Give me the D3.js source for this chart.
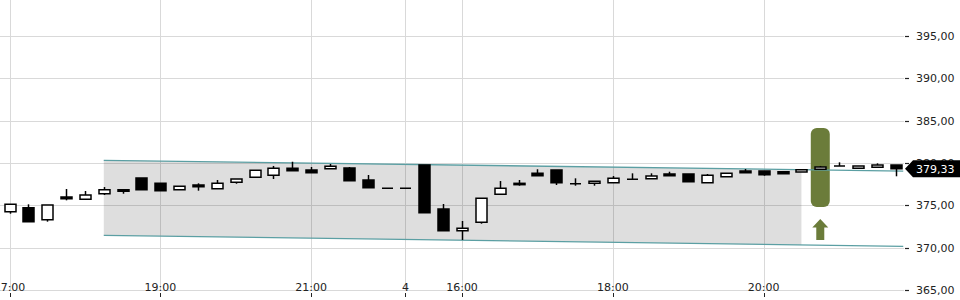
<!DOCTYPE html>
<html>
<head>
<meta charset="utf-8">
<script src="https://cdn.jsdelivr.net/npm/d3@7"></script>
<style>
  body { margin: 0; background: #fff; }
  svg { display: block; font-family: "DejaVu Sans", sans-serif; }
</style>
</head>
<body>
<svg width="960" height="300"></svg>
<script>
// 15 minute candles, index 0..47
var openV  = [374.25,374.72,373.30,375.98,375.71,376.37,376.85,378.23,377.60,376.85,377.40,376.96,377.72,378.31,378.55,379.37,
              379.17,379.33,379.41,377.99,377.01,377.01,379.76,374.57,372.00,373.00,376.30,377.60,378.78,379.17,377.55,377.60,
              377.67,378.07,378.15,378.70,378.70,377.67,378.38,379.05,379.05,378.97,378.94,379.26,379.65,379.37,379.49,379.76];
var closeV = [375.12,373.07,375.04,375.78,376.22,376.85,376.66,376.85,376.73,377.25,377.20,377.60,378.11,379.14,379.37,379.09,
              378.85,379.61,377.91,377.08,377.01,377.01,374.13,372.00,372.29,375.83,377.01,377.44,378.50,377.67,377.55,377.84,
              378.19,378.07,378.46,378.50,377.79,378.55,378.78,378.85,378.62,378.74,379.21,379.53,379.65,379.65,379.76,379.33];
var highV  = [375.12,375.12,375.04,376.93,376.69,377.16,376.85,378.23,377.60,377.25,377.60,377.99,378.11,379.14,379.65,380.15,
              379.53,379.88,379.53,378.58,377.01,377.01,379.76,375.16,373.15,375.83,377.87,377.99,379.26,379.17,378.19,377.84,
              378.46,378.78,378.78,378.97,378.70,378.70,378.78,379.29,379.05,378.97,379.21,379.65,380.08,379.65,379.96,379.76];
var lowV   = [374.01,373.07,373.07,375.59,375.71,376.22,376.37,376.85,376.73,376.85,376.73,376.96,377.55,378.31,378.11,379.09,
              378.85,379.33,377.91,377.08,377.01,377.01,374.13,372.00,370.91,372.83,376.30,377.32,378.50,377.40,377.32,377.32,
              377.67,378.07,378.15,378.50,377.79,377.67,378.38,378.85,378.50,378.74,378.94,379.26,379.65,379.37,379.49,378.43];

var xTickIdx    = [0, 8, 16, 21, 24, 32, 40];
var xTickLabels = ["17:00", "19:00", "21:00", "4", "16:00", "18:00", "20:00"];
var yTicks      = [365, 370, 375, 380, 385, 390, 395];

// trend channel (index, value)
var chanStart = 5, chanFillEnd = 42, chanEnd = 47.4;
var upperChan = [380.32, 379.05];
var lowerChan = [371.46, 370.16];

// buy signal
var signalIdx = 43;
var signalRange = [374.8, 384.13];
var arrowRange = [370.9, 373.4];
var lastPrice = 379.33;

var svg = d3.select("svg");
var x = d3.scaleLinear().domain([0, 47]).range([9.5, 895.7]);
var y = d3.scaleLinear().domain([365, 395]).range([290, 36]);
var plotRight = 904;
var fmt = v => d3.format(".2f")(v).replace(".", ",");

// grid
var grid = svg.append("g").attr("stroke", "#d9d9d9").attr("stroke-width", 1);
grid.selectAll(".h").data(yTicks).enter().append("line")
    .attr("x1", 0).attr("x2", plotRight)
    .attr("y1", d => Math.round(y(d)) + 0.5).attr("y2", d => Math.round(y(d)) + 0.5);
grid.selectAll(".v").data(xTickIdx).enter().append("line")
    .attr("x1", d => Math.round(x(d)) + 0.5).attr("x2", d => Math.round(x(d)) + 0.5)
    .attr("y1", 0).attr("y2", 290);

// channel fill
function chanVal(arr, i) {
  return arr[0] + (arr[1] - arr[0]) * (i - chanStart) / (chanEnd - chanStart);
}
svg.append("path")
    .attr("d", d3.line()([
      [x(chanStart), y(upperChan[0])],
      [x(chanFillEnd), y(chanVal(upperChan, chanFillEnd))],
      [x(chanFillEnd), y(chanVal(lowerChan, chanFillEnd))],
      [x(chanStart), y(lowerChan[0])]
    ]) + "Z")
    .attr("fill", "#000").attr("fill-opacity", 0.13);

// signal marker
var sx = x(signalIdx);
svg.append("rect")
    .attr("x", sx - 9.5).attr("width", 19)
    .attr("y", y(signalRange[1])).attr("height", y(signalRange[0]) - y(signalRange[1]))
    .attr("rx", 6).attr("fill", "#6b7c3a");
var aTop = y(arrowRange[1]), aBot = y(arrowRange[0]);
svg.append("path")
    .attr("d", d3.line()([
      [sx, aTop], [sx + 8, aTop + 8.5], [sx + 4, aTop + 8.5], [sx + 4, aBot],
      [sx - 4, aBot], [sx - 4, aTop + 8.5], [sx - 8, aTop + 8.5]
    ]) + "Z")
    .attr("fill", "#6b7c3a");

// channel lines
[upperChan, lowerChan].forEach(function(c) {
  svg.append("line")
      .attr("x1", x(chanStart)).attr("y1", y(c[0]))
      .attr("x2", x(chanEnd)).attr("y2", y(c[1]))
      .attr("stroke", "#5b9fa3").attr("stroke-width", 1.3);
});

// candles
var candles = svg.append("g").selectAll("g").data(d3.range(openV.length)).enter().append("g");
candles.append("line")
    .attr("x1", i => Math.round(x(i)) + 0.5).attr("x2", i => Math.round(x(i)) + 0.5)
    .attr("y1", i => y(highV[i])).attr("y2", i => y(lowV[i]))
    .attr("stroke", "#000").attr("stroke-width", 1.5);
// body as a path so that zero-height (doji) candles still show a bar
candles.append("path")
    .attr("d", function(i) {
      var x0 = Math.round(x(i)) - 5;
      var top = y(Math.max(openV[i], closeV[i]));
      var h = Math.abs(y(openV[i]) - y(closeV[i]));
      return "M" + x0 + "," + top + "h11v" + h + "h-11Z";
    })
    .attr("fill", i => closeV[i] >= openV[i] ? "#fff" : "#000")
    .attr("stroke", "#000").attr("stroke-width", 1.5);

// y axis
var yax = svg.append("g");
yax.selectAll("line").data(yTicks).enter().append("line")
    .attr("x1", 905).attr("x2", 909)
    .attr("y1", d => Math.round(y(d)) + 0.5).attr("y2", d => Math.round(y(d)) + 0.5)
    .attr("stroke", "#222").attr("stroke-width", 1.2);
yax.selectAll("text").data(yTicks).enter().append("text")
    .attr("x", 916).attr("y", d => y(d) + 4)
    .attr("font-size", 11).attr("fill", "#222")
    .text(fmt);

// x axis
var xax = svg.append("g");
xax.selectAll("line").data(xTickIdx).enter().append("line")
    .attr("x1", d => Math.round(x(d)) + 0.5).attr("x2", d => Math.round(x(d)) + 0.5)
    .attr("y1", 293).attr("y2", 297)
    .attr("stroke", "#222").attr("stroke-width", 1);
xax.selectAll("text").data(xTickIdx).enter().append("text")
    .attr("x", d => x(d)).attr("y", 291)
    .attr("text-anchor", "middle")
    .attr("font-size", 11).attr("fill", "#222")
    .text((d, k) => xTickLabels[k]);

// last price tag
var py = y(lastPrice);
svg.append("path")
    .attr("d", d3.line()([
      [905, py], [913, py - 8.5], [960, py - 8.5], [960, py + 8.5], [913, py + 8.5]
    ]) + "Z")
    .attr("fill", "#000");
svg.append("text")
    .attr("x", 916).attr("y", py + 4)
    .attr("font-size", 11).attr("fill", "#fff")
    .text(fmt(lastPrice));
</script>
</body>
</html>
